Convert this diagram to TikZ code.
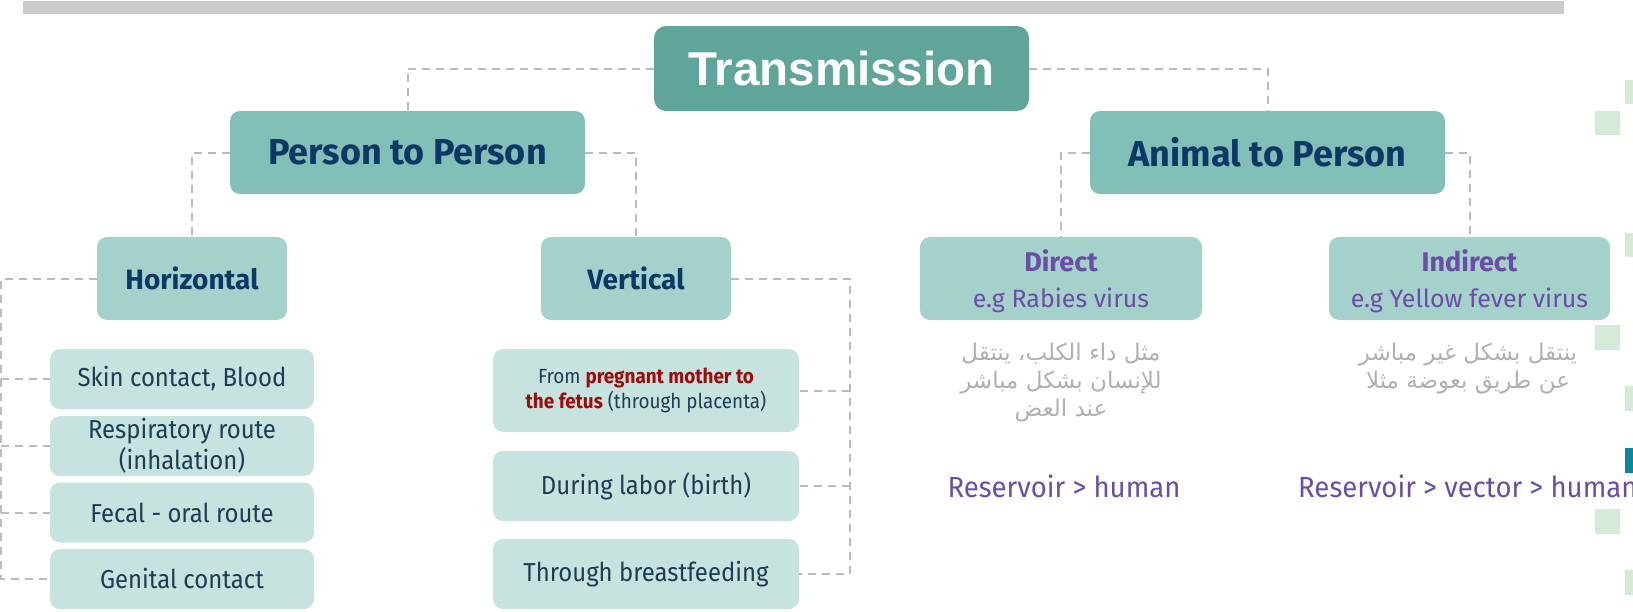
\documentclass[tikz,border=0pt]{standalone}
\usepackage{fontspec}
\setmainfont{Fira Sans}
\newfontfamily\leaffont[FakeStretch=0.92]{Fira Sans}
\newfontfamily\resfont[FakeStretch=0.95]{Fira Sans}
\newfontfamily\arialfont{Liberation Sans}
\newfontfamily\arabicfont[Script=Arabic]{DejaVu Sans}
\TeXXeTstate=1
\definecolor{topbar}{HTML}{CACACA}
\definecolor{ctrans}{HTML}{5FA59A}
\definecolor{cone}{HTML}{82BFB7}
\definecolor{ctwo}{HTML}{A5D1CB}
\definecolor{cleaf}{HTML}{C6E3DF}
\definecolor{navy}{HTML}{0C3866}
\definecolor{leaftext}{HTML}{1C3D52}
\definecolor{purp}{HTML}{6B4DA6}
\definecolor{dred}{HTML}{A00A0A}
\definecolor{dashgray}{HTML}{BBBBBB}
\definecolor{argray}{HTML}{B0B0B0}
\definecolor{sqgreen}{HTML}{D3EBD6}
\definecolor{sqteal}{HTML}{0E879B}
\begin{document}
\begin{tikzpicture}[x=1pt,y=1pt,
  box/.style={rounded corners=10pt, inner sep=0pt, anchor=center, align=center},
  transbox/.style={box, rounded corners=12pt, fill=ctrans, minimum width=375pt, minimum height=85pt, text=white, font=\arialfont\bfseries\fontsize{47.5}{50}\selectfont},
  lvlone/.style={box, fill=cone, minimum width=355pt, minimum height=83pt, text=navy, font=\bfseries\fontsize{36}{40}\selectfont},
  lvltwo/.style={box, fill=ctwo, minimum height=83pt, text=navy, font=\bfseries\fontsize{28}{32}\selectfont},
  exbox/.style={box, fill=ctwo, minimum height=83pt, text=purp, font=\fontsize{25}{35}\selectfont},
  leafl/.style={box, fill=cleaf, minimum width=264pt, minimum height=60pt, text=leaftext, font=\leaffont\fontsize{26}{31}\selectfont},
  leafr/.style={box, fill=cleaf, minimum width=306pt, text=leaftext, font=\leaffont\fontsize{26}{31}\selectfont},
  artext/.style={anchor=center, align=center, inner sep=0pt, text=argray, font=\arabicfont\fontsize{23}{28}\selectfont},
  restext/.style={inner sep=0pt, text=purp, font=\resfont\fontsize{29}{32}\selectfont},
  conn/.style={draw=dashgray, line width=2pt, dash pattern=on 8pt off 6pt},
  sq/.style={fill=sqgreen}
]
\useasboundingbox (0,-611) rectangle (1633,0);
\clip (0,-611) rectangle (1633,0);

% top bar
\fill[topbar] (23,-1) rectangle (1564,-14);

% decorative squares
\fill[sq] (1595,-111) rectangle (1620,-135);
\fill[sq] (1595,-325) rectangle (1620,-350);
\fill[sq] (1595,-509) rectangle (1620,-534);
\fill[sq] (1625,-80) rectangle (1650,-104);
\fill[sq] (1625,-233) rectangle (1650,-257);
\fill[sq] (1625,-386) rectangle (1650,-411);
\fill[sq] (1625,-570) rectangle (1650,-595);
\fill[sqteal] (1625,-448) rectangle (1650,-473);

% nodes
\node[transbox] (trans) at (841.5,-68.5) {Transmission};
\node[lvlone] (p2p) at (407.5,-152.5) {Person to Person};
\node[lvlone] (a2p) at (1267.5,-152.5) {Animal to Person};
\node[lvltwo, minimum width=190pt] (hor) at (192,-278.5) {Horizontal};
\node[lvltwo, minimum width=190pt] (ver) at (636,-278.5) {Vertical};
\node[exbox, minimum width=282pt] (dir) at (1061,-278.5) {\rule{0pt}{27pt}{\bfseries\fontsize{27}{35}\selectfont Direct}\\[-1pt]\raisebox{-2pt}{e.g Rabies virus}};
\node[exbox, minimum width=281pt] (ind) at (1469.5,-278.5) {\rule{0pt}{27pt}{\bfseries\fontsize{27}{35}\selectfont Indirect}\\[-1pt]\raisebox{-2pt}{e.g Yellow fever virus}};

\node[leafl] (skin) at (182,-379) {Skin contact, Blood};
\node[leafl] (resp) at (182,-446) {Respiratory route\\(inhalation)};
\node[leafl] (fecal) at (182,-512.5) {Fecal - oral route};
\node[leafl] (genital) at (182,-579) {Genital contact};

\node[leafr, minimum height=83pt, font=\leaffont\fontsize{20.5}{25}\selectfont] (preg) at (646,-390.5) {From \textcolor{dred}{\bfseries pregnant mother to}\\\textcolor{dred}{\bfseries the fetus} (through placenta)};
\node[leafr, minimum height=70pt] (labor) at (646,-486) {During labor (birth)};
\node[leafr, minimum height=70pt] (breast) at (646,-574) {Through breastfeeding};

\node[artext] (dirar) at (1061,-383) {\beginR مثل داء الكلب، ينتقل\endR\\\beginR للإنسان بشكل مباشر\endR\\\beginR عند العض\endR};
\node[artext] (indar) at (1468,-369) {\beginR ينتقل بشكل غير مباشر\endR\\\beginR عن طريق بعوضة مثلا\endR};

\node[restext, anchor=center] (res1) at (1064,-486) {Reservoir > human};
\node[restext, anchor=west] (res2) at (1298,-486) {Reservoir > vector > human};

% bus coordinates
\coordinate (hbus) at (1,-278.5);
\coordinate (vbus) at (850,-278.5);

% connectors
\draw[conn] (trans.west) -| (p2p.north);
\draw[conn] (trans.east) -| (a2p.north);
\draw[conn] (p2p.west) -| (hor.north);
\draw[conn] (p2p.east) -| (ver.north);
\draw[conn] (a2p.west) -| (dir.north);
\draw[conn] (a2p.east) -| (ind.north);

\draw[conn] (hor.west) -- (hbus) |- (genital.west);
\draw[conn] (skin.west -| hbus) -- (skin.west);
\draw[conn] (resp.west -| hbus) -- (resp.west);
\draw[conn] (fecal.west -| hbus) -- (fecal.west);

\draw[conn] (ver.east) -- (vbus) |- (breast.east);
\draw[conn] (preg.east -| vbus) -- (preg.east);
\draw[conn] (labor.east -| vbus) -- (labor.east);
\end{tikzpicture}
\end{document}
